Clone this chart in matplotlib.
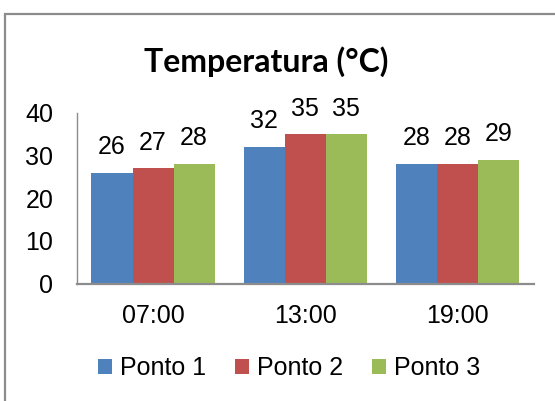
import matplotlib
matplotlib.use("Agg")
import matplotlib.pyplot as plt
from matplotlib.patches import Patch, Rectangle
import numpy as np

categories = ["07:00", "13:00", "19:00"]
series_names = ["Ponto 1", "Ponto 2", "Ponto 3"]
ponto1 = [26, 32, 28]
ponto2 = [27, 35, 28]
ponto3 = [28, 35, 29]
colors = ["#4F81BD", "#C0504D", "#9BBB59"]
yticks = [0, 10, 20, 30, 40]

plt.rcParams["font.family"] = ["Liberation Sans", "DejaVu Sans"]

W, H = 555, 401
fig = plt.figure(figsize=(W / 100, H / 100), dpi=100)
fig.patch.set_facecolor("white")

# chart frame (grey border on top and left)
fig.add_artist(Rectangle((5 / W, -0.05), 1.2, (H - 14) / H + 0.05,
                         transform=fig.transFigure, fill=False,
                         edgecolor="#8C8C8C", linewidth=1.6))

ax = fig.add_axes([77 / W, (H - 283.5) / H, (533.5 - 77) / W, (283.5 - 113) / H])

x = np.arange(len(categories))
width = 0.27
values = [ponto1, ponto2, ponto3]
for i, (vals, c, name) in enumerate(zip(values, colors, series_names)):
    pos = x + (i - 1) * width
    bars = ax.bar(pos, vals, width=width, color=c, label=name, zorder=2)
    for b, v in zip(bars, vals):
        ax.annotate(str(v), (b.get_x() + b.get_width() / 2, v),
                    xytext=(0, 18.5), textcoords="offset points",
                    ha="center", va="center", fontsize=18)

ax.set_xlim(-0.5, len(categories) - 0.5)
ax.set_ylim(0, 40)
ax.set_yticks(yticks)
ax.set_xticks(x)
ax.set_xticklabels(categories)
ax.tick_params(axis="y", length=0, pad=17, labelsize=18)
ax.tick_params(axis="x", length=0, pad=15, labelsize=18)
for s in ["top", "right"]:
    ax.spines[s].set_visible(False)
ax.spines["left"].set_color("#8C8C8C")
ax.spines["bottom"].set_color("#8C8C8C")
ax.spines["left"].set_linewidth(1.0)
ax.spines["bottom"].set_linewidth(1.6)

fig.text(266.5 / W, (H - 62) / H, "Temperatura (°C)", ha="center", va="center",
         fontsize=23, fontweight="bold", family=["Lato", "DejaVu Sans"])

handles = [Patch(facecolor=c, edgecolor="none") for c in colors]
fig.legend(handles, series_names, loc="center", bbox_to_anchor=(289 / W, (H - 368) / H),
           ncol=3, frameon=False, fontsize=18, handlelength=0.55, handleheight=0.55,
           handletextpad=0.32, columnspacing=1.16, borderpad=0, borderaxespad=0)

fig.savefig("out.png", dpi=100, facecolor="white")
